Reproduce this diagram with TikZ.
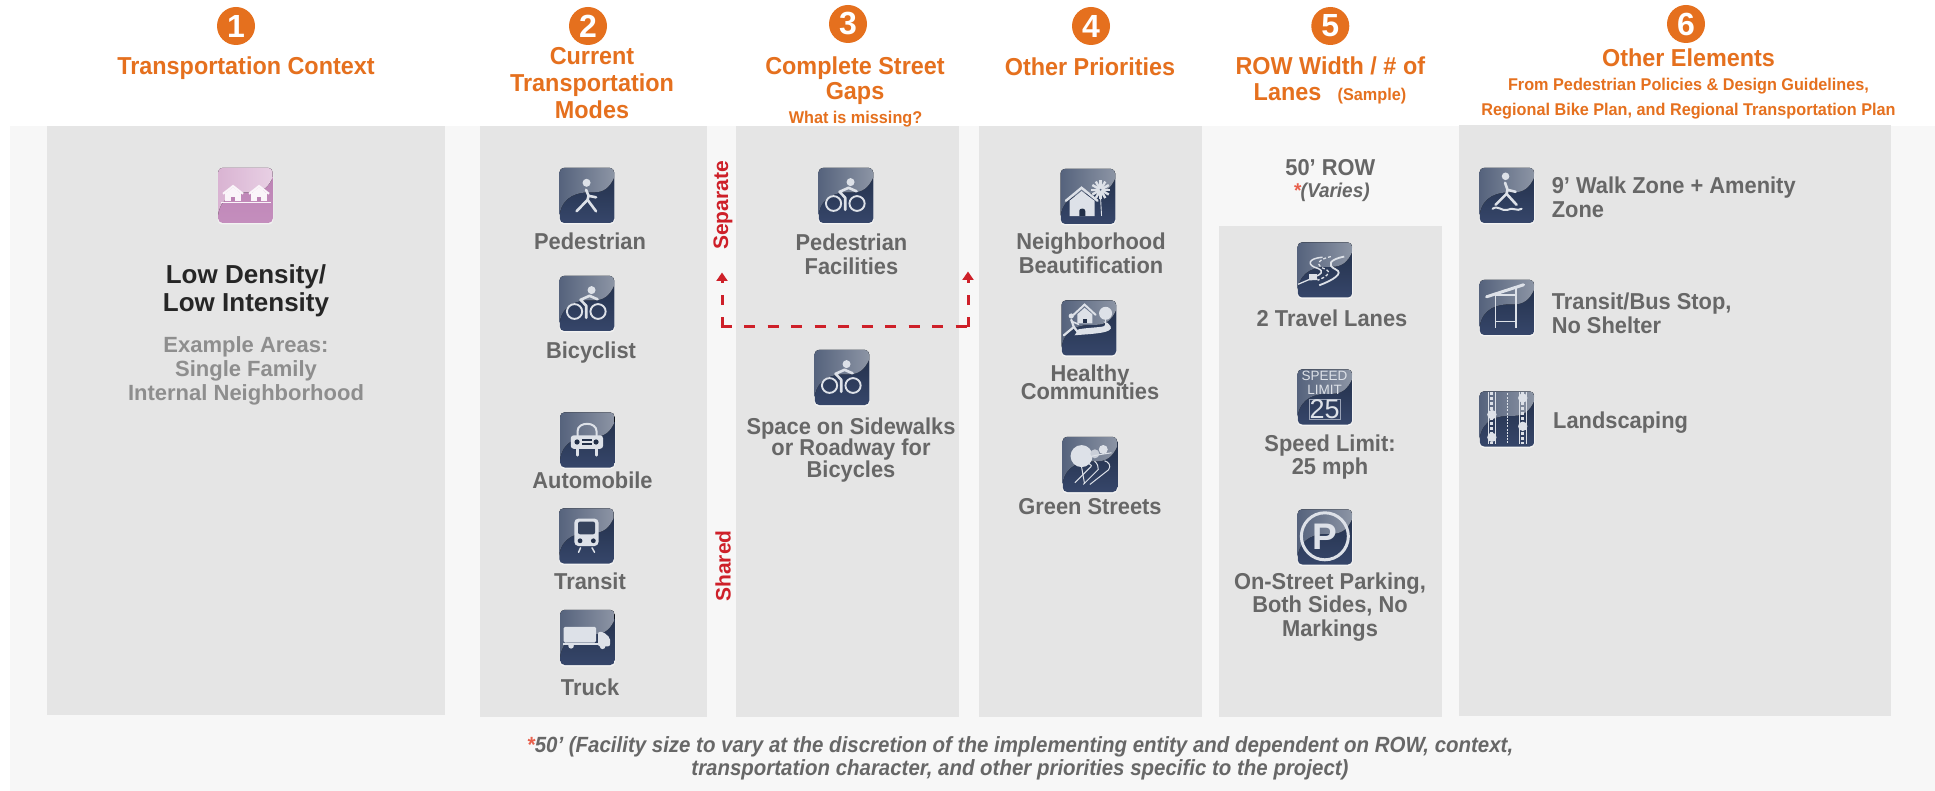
\documentclass[tikz,border=0pt]{standalone}
\usepackage{fontspec}
\setmainfont{Liberation Sans}
\newfontfamily\headf[FakeStretch=0.955]{Liberation Sans}
\newfontfamily\labf[FakeStretch=0.95]{Liberation Sans}
\newfontfamily\footf[FakeStretch=0.93]{Liberation Sans}
\usetikzlibrary{arrows.meta}
\definecolor{orangeH}{HTML}{E5701E}
\definecolor{panelG}{HTML}{E5E5E5}
\definecolor{bandG}{HTML}{F7F7F7}
\definecolor{txtG}{HTML}{676767}
\definecolor{txtL}{HTML}{8E8E8E}
\definecolor{redL}{HTML}{CE2029}
\definecolor{starR}{HTML}{E8604C}
\definecolor{navyA}{HTML}{222F48}
\definecolor{navyB}{HTML}{36466A}
\definecolor{glA}{HTML}{55627C}
\definecolor{glB}{HTML}{8D95A5}
\definecolor{pinkA}{HTML}{BC82B4}
\definecolor{pinkB}{HTML}{C48EBD}
\definecolor{pglA}{HTML}{D9B3D2}
\definecolor{pglB}{HTML}{E8D0E4}
\definecolor{iconW}{HTML}{DDE1E8}
\newcommand\glossA{glA}
\newcommand\glossB{glB}
\newcommand\tightlines{\lineskiplimit=-100pt }
\tikzset{
  x=1pt,y=-1pt,
  panel/.style={fill=panelG,draw=none},
  iconbase/.style={minimum width=54.5pt,minimum height=55pt,inner sep=0pt,rounded corners=4.5pt,draw=none},
  iconbox/.style={iconbase,top color=navyA,bottom color=navyB},
  iconpink/.style={iconbase,top color=pinkA,bottom color=pinkB},
  iconedge/.style={minimum width=55.5pt,minimum height=55pt,inner sep=0pt,rounded corners=4.5pt,fill=white!50!panelG,draw=none},
  gl/.style={draw=iconW,line width=2.6pt,line cap=round,line join=round},
  glt/.style={draw=iconW,line width=1.5pt,line cap=round,line join=round},
  numc/.style={circle,fill=orangeH,minimum size=38pt,inner sep=0pt,text=white,font=\bfseries\fontsize{32}{32}\selectfont},
  headt/.style={inner sep=0pt,align=center,text=orangeH,font=\tightlines\headf\bfseries\fontsize{24.5}{27}\selectfont},
  subt/.style={inner sep=0pt,align=center,text=orangeH,font=\headf\bfseries\fontsize{17}{25}\selectfont},
  lab/.style={inner sep=0pt,align=center,text=txtG,font=\tightlines\labf\bfseries\fontsize{23}{24}\selectfont},
  labl/.style={lab,align=left,anchor=west},
  darkt/.style={inner sep=0pt,align=center,text=black!85,font=\tightlines\bfseries\fontsize{26}{28}\selectfont},
  areat/.style={inner sep=0pt,align=center,text=txtL,font=\tightlines\bfseries\fontsize{22}{24}\selectfont},
  foot/.style={inner sep=0pt,align=center,text=txtG,font=\footf\bfseries\itshape\fontsize{22}{23.5}\selectfont},
  redt/.style={inner sep=0pt,text=redL,rotate=90,font=\bfseries\fontsize{21}{21}\selectfont},
  gapline/.style={draw=redL,line width=3pt},
}
\newcommand\icon[5][iconbox]{%
  \node[iconedge] at (#3,#4+1.5) {};
  \node[#1] (#2) at (#3,#4) {};
  \begin{scope}[shift={(#2.north west)}]
    \begin{scope}
      \clip[rounded corners=4.5pt] (0,0) rectangle (54.5,55);
      \fill[left color=\glossA,right color=\glossB] (-1,-1) -- (55,-1) -- (55,9)
        .. controls (50,20) and (44,25) .. (33,24.5)
        .. controls (18,24) and (3,28) .. (0,47) -- (-1,47) -- cycle;
    \end{scope}
    #5
  \end{scope}}
\newcommand\bikeglyph{%
  \fill[iconW] (32,14.3) circle (4);
  \draw[iconW,line width=1.9pt] (15,35.7) ellipse (7.6 and 7.4);
  \draw[iconW,line width=1.9pt] (38.5,35.7) ellipse (7.6 and 7.4);
  \draw[gl] (30,20) -- (21,24) -- (26.7,30) -- (26.7,42);
  \draw[gl] (30,20) -- (38,23.5);
}
\begin{document}
\begin{tikzpicture}
\useasboundingbox (0,0) rectangle (1935,791);
\fill[white] (0,0) rectangle (1935,791);
\fill[bandG] (10,126) rectangle (1935,791);
\fill[panel] (47,126) rectangle (444.5,715);
\fill[panel] (480,126) rectangle (707,716.5);
\fill[panel] (736,126) rectangle (959,716.5);
\fill[panel] (979,126) rectangle (1202,716.5);
\fill[panel] (1219,226) rectangle (1442,716.5);
\fill[panel] (1459,125) rectangle (1891,715.7);
% number badges
\node[numc] (n1) at (236,26) {1};
\node[numc] (n2) at (588,26) {2};
\node[numc] (n3) at (848,24) {3};
\node[numc] (n4) at (1091,26) {4};
\node[numc] (n5) at (1330.3,26) {5};
\node[numc] (n6) at (1686,24) {6};
% headings
\node[headt] (h1) at (246,68) {Transportation Context};
\node[headt] (h2) at (592,83) {Current\\Transportation\\Modes};
\node[headt,font=\tightlines\headf\bfseries\fontsize{24.5}{25.5}\selectfont] (h3) at (855,80.5) {Complete Street\\Gaps};
\node[subt] (h3s) at (855.5,119) {What is missing?};
\node[headt] (h4) at (1090,67) {Other Priorities};
\node[headt] (h5) at (1330.3,66) {ROW Width / \# of};
\node[headt] (h5b) at (1287.5,92.5) {Lanes};
\node[subt] (h5s) at (1372,96) {(Sample)};
\node[headt] (h6) at (1688.5,58) {Other Elements};
\node[subt] (h6s) at (1688.5,98.5) {From Pedestrian Policies \& Design Guidelines,\\Regional Bike Plan, and Regional Transportation Plan};
% column 1
\begingroup
\renewcommand\glossA{pglA}\renewcommand\glossB{pglB}
\icon[iconpink]{ihouse}{245.5}{195.5}{
  \draw[white!92!pinkA,line width=1.2pt] (3,35) -- (53,35);
  \foreach \c in {15,41}{
    \fill[white!92!pinkA] (\c-7.7,25) rectangle (\c+7.7,33.5);
    \draw[white!92!pinkA,line width=2pt,line join=miter] (\c-10,26) -- (\c,18.2) -- (\c+10,26);
    \fill[white!92!pinkA] (\c-7.7,25.5) -- (\c,19.5) -- (\c+7.7,25.5) -- cycle;
    \fill[pinkA] (\c-2,29.5) rectangle (\c+2,33.5);
  }
}
\endgroup
\node[darkt] (t1) at (246,290.5) {Low Density/\\Low Intensity};
\node[areat] (t1b) at (246,370.5) {Example Areas:\\Single Family\\Internal Neighborhood};
% column 2
\icon{iped}{587}{195.5}{
  \fill[iconW] (27,15) circle (4);
  \draw[gl] (26.5,22) -- (29,28) -- (36.5,29.5);
  \draw[gl] (29,28) -- (28,32) -- (17,43.5);
  \draw[gl] (28,32) -- (36.5,43.5);
}
\node[lab] (tped) at (590,241.7) {Pedestrian};
\icon{ibike}{587}{303.5}{\bikeglyph}
\node[lab] (tbike) at (591,352.5) {Bicyclist};
\icon{icar}{587.5}{440}{
  \draw[iconW,line width=2pt] (17.5,25) -- (17.5,19) .. controls (17.5,9) and (36.5,9) .. (36.5,19) -- (36.5,25);
  \fill[iconW,rounded corners=3pt] (10.7,23) rectangle (43,36.5);
  \fill[navyA] (17,29.7) circle (2.6);
  \fill[navyA] (36,29.7) circle (2.6);
  \fill[navyA] (22,26.6) rectangle (31.5,28.2);
  \fill[navyA] (22,30.6) rectangle (31.5,32.2);
  \draw[gl] (17.5,36.5) -- (17.5,43);
  \draw[gl] (36.5,36.5) -- (36.5,43);
}
\node[lab] (tcar) at (592.5,480) {Automobile};
\icon{itrain}{586.5}{536}{
  \fill[iconW,rounded corners=4pt] (15.3,10.3) rectangle (39.5,37.7);
  \fill[navyA!60!glA,rounded corners=2pt] (19,13.3) rectangle (36,26);
  \fill[navyA] (21,32.5) circle (2.4);
  \fill[navyA] (34.3,32.5) circle (2.4);
  \draw[glt] (21.5,39.5) -- (19.5,44);
  \draw[glt] (33,39.5) -- (35.5,44);
}
\node[lab] (ttrain) at (590,581.7) {Transit};
\icon{itruck}{587.5}{637.5}{
  \fill[iconW,rounded corners=1.5pt] (3.6,17) rectangle (36,32.7);
  \fill[iconW,rounded corners=2pt] (38,22) -- (43,22) -- (50,28) -- (50,36.5) -- (38,36.5) -- cycle;
  \fill[iconW] (3,33.5) rectangle (42,35.5);
  \fill[iconW] (11,36) circle (2.8);
  \fill[iconW] (42.5,36.5) circle (2.8);
}
\node[lab] (ttruck) at (590,687) {Truck};
% gap arrows
\coordinate (gl) at (722,327);
\coordinate (gr) at (968,327);
\coordinate (gltip) at (722,272.5);
\coordinate (grtip) at (968,271.5);
\draw[gapline,dash pattern=on 10pt off 12pt,-{Triangle[width=11pt,length=8.5pt]}] (gl) -- (gltip);
\draw[gapline,dash pattern=on 10pt off 12pt,-{Triangle[width=11pt,length=8.5pt]}] (gr) -- (grtip);
\draw[gapline,dash pattern=on 11.3pt off 12.2pt] (720.5,327) -- (969.5,327);
\node[redt] (sep) at (723,205.5) {Separate};
\node[redt] (sha) at (723,566) {Shared};
% column 3
\icon{ibk2}{846}{195.5}{\bikeglyph}
\node[lab] (tpf) at (851.4,254) {Pedestrian\\Facilities};
\icon{ibk3}{842}{377.5}{\bikeglyph}
\node[lab,font=\tightlines\labf\bfseries\fontsize{23}{21.5}\selectfont] (tsp) at (851,450) {Space on Sidewalks\\or Roadway for\\Bicycles};
% column 4
\icon{inb}{1088}{196.5}{
  \draw[iconW,line width=2.4pt,line cap=round,line join=miter] (5.3,32) -- (21,19) -- (37,32);
  \fill[iconW] (9,32) -- (21,22.3) -- (34,32) -- (34,47.3) -- (9,47.3) -- cycle;
  \fill[navyA] (18.7,47.3) -- (18.7,42) .. controls (18.7,39) and (24.7,39) .. (24.7,42) -- (24.7,47.3) -- cycle;
  \foreach \a in {0,30,...,150}{\draw[iconW,line width=2.4pt] (40,21) ++(\a:9.5) -- ++(\a+180:19);}
  \fill[glA] (40,21) circle (1);
  \draw[iconW,line width=.9pt] (40,29) -- (41,47);
}
\node[lab] (tnb) at (1091,253) {Neighborhood\\Beautification};
\icon{ihc}{1089}{328}{
  \draw[iconW,line width=2pt,line cap=round] (12,14.5) -- (23,4.3) -- (34,14.5);
  \fill[iconW] (15.7,14) -- (23,7.5) -- (30.7,14) -- (30.7,23) -- (15.7,23) -- cycle;
  \fill[navyA] (21.5,18.5) rectangle (25.5,23);
  \fill[iconW] (44,13) circle (6.5);
  \draw[iconW,line width=1pt] (44,19) -- (44,24);
  \fill[iconW] (9.7,15.7) circle (2.6);
  \draw[glt,line width=2.2pt] (9.7,19.5) -- (12.3,26.7) -- (2.3,35);
  \draw[glt,line width=2.2pt] (12.3,26.7) -- (17.3,33);
  \draw[glt,line width=1.6pt] (10,21) -- (17,24);
  \fill[iconW] (13,35) .. controls (30,33.5) and (53,33) .. (49,26) .. controls (48,23) and (45,22) .. (42,21)
     .. controls (45,24) and (44,26) .. (40,26.5) .. controls (30,27.5) and (22,28) .. (17,29) -- cycle;
}
\node[lab,font=\tightlines\labf\bfseries\fontsize{23}{17.5}\selectfont] (thc) at (1090,382.5) {Healthy\\Communities};
\icon{igs}{1090}{464.5}{
  \fill[iconW] (19,19.3) circle (11);
  \fill[iconW!85!glA] (32.3,17) circle (4.5);
  \fill[iconW] (40.7,12.7) circle (4.5);
  \draw[iconW,line width=1pt] (49,16) .. controls (28,19) and (16,22) .. (20.7,24) .. controls (24,27) and (32,27) .. (27.3,31) -- (12.3,46);
  \draw[iconW,line width=1pt] (42,24) .. controls (46,25) and (49,29) .. (46,33) -- (27.3,47.7);
  \draw[iconW,line width=1pt] (32,24.3) .. controls (35,27) and (36,30) .. (35.7,32.7) -- (20.7,47.7);
  \draw[iconW,line width=1pt] (19,30) -- (22,47);
}
\node[lab] (tgs) at (1090,506.7) {Green Streets};
% column 5
\node[lab] (t50) at (1330.3,168) {50’ ROW};
\node[lab,font=\labf\itshape\bfseries\fontsize{20}{20}\selectfont] (tvar) at (1331.5,192.5) {\textcolor{starR}{*}(Varies)};
\icon{iroad}{1325}{270}{
  \draw[iconW,line width=1.5pt] (25,15) .. controls (10,16) and (9,23) .. (20,26) .. controls (28,29) and (22,33) .. (18,34);
  \draw[iconW,line width=1.3pt,dash pattern=on 3pt off 2pt] (33.3,14.3) .. controls (20,17) and (17,23) .. (28,27) .. controls (35,30) and (28,35) .. (20,38);
  \draw[iconW,line width=1.8pt] (46.7,14.3) .. controls (32,17) and (29,23) .. (38,27) .. controls (47,31) and (35,38) .. (21.7,43);
  \fill[iconW] (11,31.5) rectangle (19.5,38);
  \draw[iconW,line width=1.3pt] (0.5,42) -- (11,37.5) -- (20,37);
}
\node[lab] (trd) at (1332,318) {2 Travel Lanes};
\icon{ispd}{1325}{397}{
  \node[inner sep=0pt,text=iconW,font=\fontsize{13.5}{13.5}\selectfont] (sp1) at (27,7) {SPEED};
  \node[inner sep=0pt,text=iconW,font=\fontsize{13.5}{13.5}\selectfont] (sp2) at (27,21) {LIMIT};
  \node[draw=iconW!60!navyB,line width=.4pt,inner sep=.3pt,text=iconW,font=\fontsize{27}{27}\selectfont] (sp3) at (27,40) {25};
}
\node[lab,font=\tightlines\labf\bfseries\fontsize{23}{23}\selectfont] (tsl) at (1330,457.5) {Speed Limit:\\25 mph};
\icon{ipk}{1325}{537}{
  \draw[iconW,line width=3pt] (27.3,27) circle (23.5);
  \node[inner sep=0pt,text=iconW,font=\bfseries\fontsize{37}{37}\selectfont] (pk) at (27.5,27) {P};
}
\node[lab,font=\tightlines\labf\bfseries\fontsize{23}{23.5}\selectfont] (tpk) at (1330,607) {On-Street Parking,\\Both Sides, No\\Markings};
% column 6
\icon{iwk}{1507}{195.5}{
  \fill[iconW] (26,8.5) circle (3.8);
  \draw[gl] (25.5,15) -- (28,22) -- (36,24);
  \draw[gl] (28,22) -- (27,26) -- (16,37);
  \draw[gl] (27,26) -- (37,37);
  \draw[iconW,line width=2pt,line cap=round] (13,41) .. controls (19,37) and (22,44) .. (28,42) .. controls (33,39) and (38,44) .. (42,41);
}
\node[labl] (twk) at (1551.6,197.5) {9’ Walk Zone + Amenity\\Zone};
\icon{ibus}{1507}{307.5}{
  \draw[iconW,line width=3pt,line cap=round] (7,17) -- (44,5);
  \draw[iconW,line width=1.6pt] (16,13) -- (16,48);
  \draw[iconW,line width=1.6pt] (36.5,8) -- (36.5,48);
  \draw[iconW,line width=1.6pt] (16,15) -- (36.5,15);
  \draw[iconW,line width=1.6pt] (16,41.7) -- (36.5,41.7);
}
\node[labl] (tbus) at (1551.6,313.5) {Transit/Bus Stop,\\No Shelter};
\icon{ilnd}{1507}{419}{
  \draw[iconW,line width=1.1pt,dash pattern=on 2pt off 1.2pt] (28,2) -- (28,53);
  \foreach \c in {12.3,43.2}{
    \draw[iconW,line width=.9pt] (\c-3.8,1) -- (\c-3.8,53);
    \draw[iconW,line width=.9pt] (\c+3.8,1) -- (\c+3.8,53);
    \draw[iconW,line width=3pt,dash pattern=on 2.5pt off 2.5pt] (\c,1) -- (\c,53);
  }
  \fill[iconW] (12.3,23.3) circle (4.7);
  \fill[iconW] (12.3,46) circle (4.7);
  \fill[iconW] (43.2,6.7) circle (4.7);
  \fill[iconW] (43.2,35) circle (4.7);
}
\node[labl] (tlnd) at (1553,422.5) {Landscaping};
% footnote
\node[foot] (fn) at (1020,758.5) {\textcolor{starR}{*}50’ (Facility size to vary at the discretion of the implementing entity and dependent on ROW, context,\\transportation character, and other priorities specific to the project)};
\end{tikzpicture}
\end{document}
